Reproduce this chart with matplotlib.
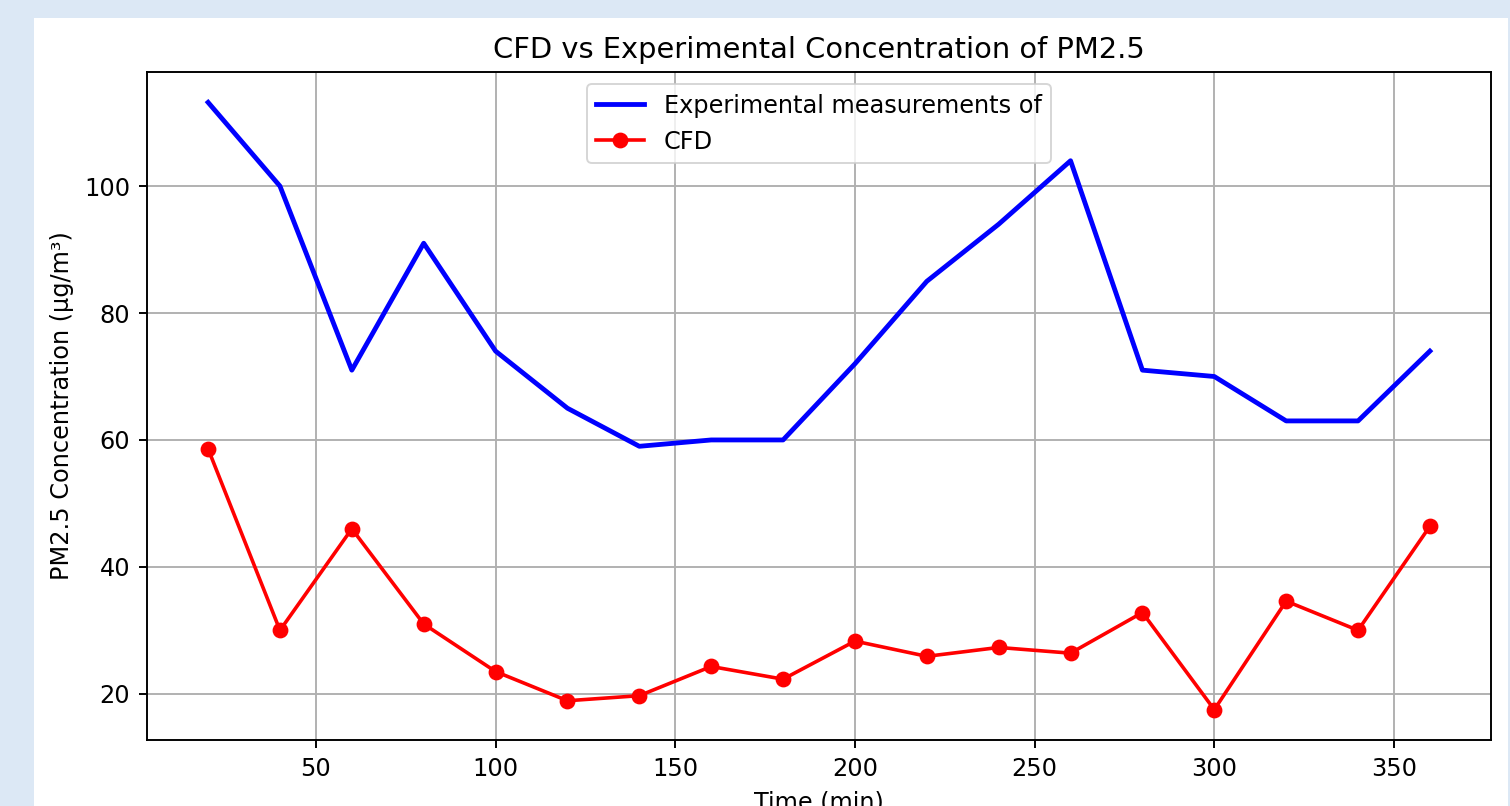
import matplotlib
matplotlib.use("Agg")
import matplotlib.pyplot as plt
from matplotlib.patches import Rectangle

time_min = [20, 40, 60, 80, 100, 120, 140, 160, 180, 200, 220, 240, 260, 280, 300, 320, 340, 360]
experimental = [113.2, 100, 71, 91, 74, 65, 59, 60, 60, 72, 85, 94, 104, 71, 70, 63, 63, 74]
cfd = [58.6, 30, 46, 31, 23.5, 18.9, 19.7, 24.3, 22.3, 28.3, 25.9, 27.3, 26.4, 32.8, 17.5, 34.6, 30, 46.4]

S = 1.73  # scale factor
W, H = 1510, 806
fig = plt.figure(figsize=(W / 100, H / 100), dpi=100, facecolor='#dce8f5')
fig.add_artist(Rectangle((34 / W, 0), (1508 - 34) / W, (H - 18) / H,
                         transform=fig.transFigure, facecolor='white',
                         edgecolor='none', zorder=0))

ax = fig.add_axes([147 / W, (H - 740) / H, (1491 - 147) / W, (740 - 72) / H])
ax.plot(time_min, experimental, color='blue', lw=2 * S, label='Experimental measurements of')
ax.plot(time_min, cfd, color='red', marker='o', lw=1.5 * S, markersize=6 * S, label='CFD')

ax.set_title('CFD vs Experimental Concentration of PM2.5', fontsize=12 * S, pad=6 * S)
ax.set_xlabel('Time (min)', fontsize=10 * S, labelpad=4 * S)
ax.set_ylabel('PM2.5 Concentration (µg/m³)', fontsize=10 * S, labelpad=4 * S)
ax.tick_params(labelsize=10 * S, width=0.8 * S, length=3.5 * S, pad=3.5 * S)
for sp in ax.spines.values():
    sp.set_linewidth(0.8 * S)
ax.grid(True, color='#b0b0b0', lw=0.8 * S)
leg = ax.legend(loc='upper center', fontsize=10 * S, framealpha=0.8)
leg.get_frame().set_linewidth(0.8 * S)

fig.savefig('out.png', dpi=100, facecolor=fig.get_facecolor())
